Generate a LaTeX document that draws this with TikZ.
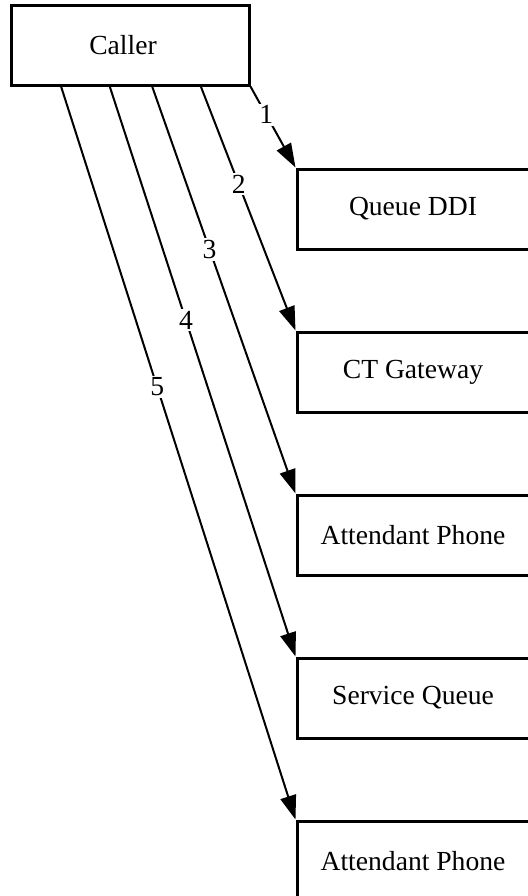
\documentclass[tikz,border=0pt]{standalone}
\usepackage{fontspec}
\setmainfont{Liberation Serif}
\usetikzlibrary{arrows.meta, calc}

\begin{document}
\begin{tikzpicture}[
    x=0.5pt, y=-0.5pt,
    every node/.style={font=\fontsize{13.8}{16}\selectfont},
    % Box styles
    party/.style={rectangle, draw=black, line width=1.5pt, fill=white, minimum width=119pt, minimum height=40pt, inner sep=0pt},
    target/.style={party, minimum width=116pt},
    % Arrow styles
    callflow/.style={-{Triangle[length=12pt, width=8pt]}, line width=1pt},
    steplabel/.style={fill=white, inner sep=1pt}
]
\useasboundingbox (0,0) rectangle (527,896);

% Caller
\node[party] (caller) at (130, 45) {Caller\hspace*{7pt}};

% Routing targets
\node[target] (ddi) at (413, 209) {Queue DDI};
\node[target] (gateway) at (413, 372) {CT Gateway};
\node[target] (attendant) at (413, 535) {Attendant Phone};
\node[target] (service) at (413, 698) {Service Queue};
\node[target] (attendant2) at (413, 861) {Attendant Phone};

% Exit points on the caller box
\coordinate (out2) at ($(caller.south west)!0.794!(caller.south east)$);
\coordinate (out3) at ($(caller.south west)!0.592!(caller.south east)$);
\coordinate (out4) at ($(caller.south west)!0.416!(caller.south east)$);
\coordinate (out5) at ($(caller.south west)!0.214!(caller.south east)$);

% Call flows
\draw[callflow] (caller.south east) -- node[steplabel, pos=0.35] {1} (ddi.north west);
\draw[callflow] (out2) -- node[steplabel, pos=0.4] {2} (gateway.north west);
\draw[callflow] (out3) -- node[steplabel, pos=0.4] {3} (attendant.north west);
\draw[callflow] (out4) -- node[steplabel, pos=0.41] {4} (service.north west);
\draw[callflow] (out5) -- node[steplabel, pos=0.41] {5} (attendant2.north west);

\end{tikzpicture}
\end{document}
